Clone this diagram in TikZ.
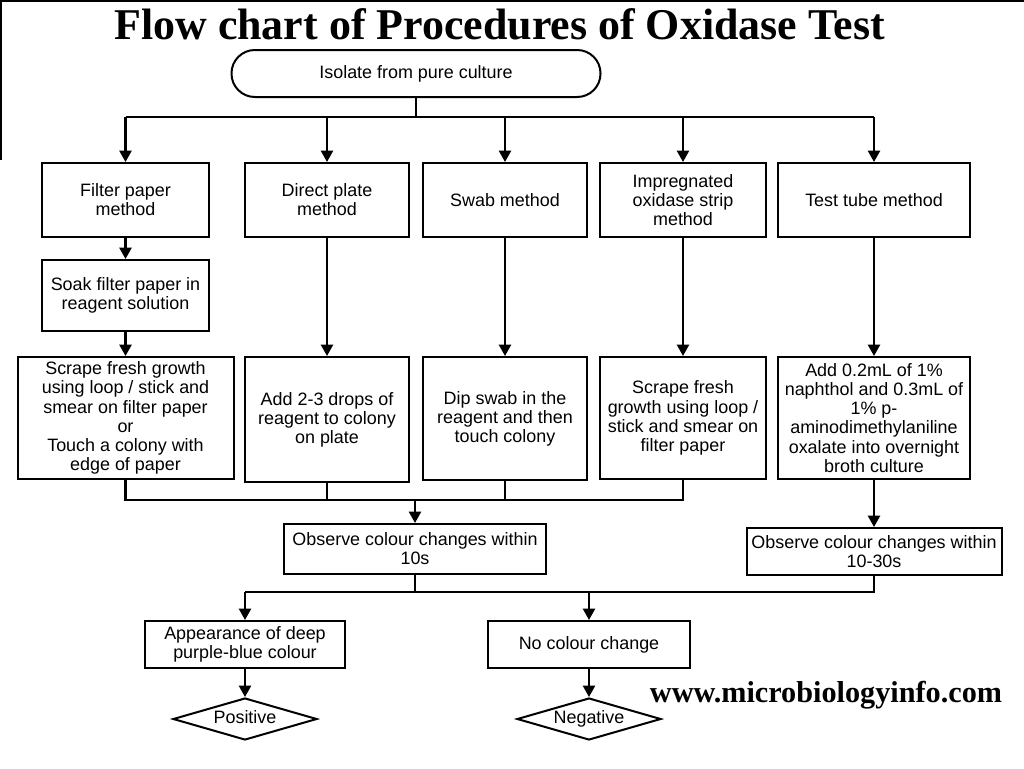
\documentclass[tikz,border=0pt]{standalone}
\usepackage{fontspec}
\setmainfont{Liberation Sans}
\newfontfamily\headfont{Liberation Serif}
\usetikzlibrary{arrows.meta,shapes.geometric}

\begin{document}
\begin{tikzpicture}[x=0.3mm, y=-0.3mm, font=\fontsize{15.3}{16.3}\selectfont,
    box/.style={draw, line width=0.6mm, align=center, inner sep=1pt},
    boxsize/.style 2 args={minimum width=#1*0.3mm, minimum height=#2*0.3mm},
    decision/.style={draw, diamond, line width=0.6mm, aspect=3.4, inner sep=0pt,
        text height=0.72em, text depth=0pt,
        minimum width=43.2mm, minimum height=12.6mm},
    wire/.style={line width=0.7mm},
    arr/.style={line width=0.7mm, -{Triangle[width=3.6mm,length=3.4mm]}}]
    \useasboundingbox (0,0) rectangle (1024,768);
    \draw[line width=0.6mm] (1,160) -- (1,1) -- (1024,1);
    \node[font=\headfont\bfseries\fontsize{37.5}{37.5}\selectfont] (title) at (499.5,24)
        {Flow chart of Procedures of Oxidase Test};
    % start
    \node[box, boxsize={369}{47}, rounded corners=7mm] (start) at (416,73.5)
        {Isolate from pure culture};
    % methods
    \node[box, boxsize={167}{74}] (filter) at (125.5,200) {Filter paper\\method};
    \node[box, boxsize={164}{74}] (direct) at (327,200) {Direct plate\\method};
    \node[box, boxsize={164}{74}] (swab) at (505,200) {Swab method};
    \node[box, boxsize={166}{74}] (strip) at (683,200) {Impregnated\\oxidase strip\\method};
    \node[box, boxsize={192}{74}] (tube) at (874,200) {Test tube method};
    \node[box, boxsize={167}{71}] (soak) at (125.5,295.5) {Soak filter paper in\\reagent solution};
    % procedures
    \node[box, boxsize={216}{122}] (scrape) at (125.5,418)
        {Scrape fresh growth\\using loop / stick and\\smear on filter paper\\or\\Touch a colony with\\edge of paper};
    \node[box, boxsize={164}{125}] (drops) at (327,419.5) {Add 2-3 drops of\\reagent to colony\\on plate};
    \node[box, boxsize={164}{123}] (dip) at (505,418.5) {Dip swab in the\\reagent and then\\touch colony};
    \node[box, boxsize={166}{122}] (smear) at (683,418)
        {Scrape fresh\\growth using loop /\\stick and smear on\\filter paper};
    \node[box, boxsize={192}{122}] (naph) at (874,418)
        {Add 0.2mL of 1\%\\naphthol and 0.3mL of\\1\% p-\\aminodimethylaniline\\oxalate into overnight\\broth culture};
    % observation
    \node[box, boxsize={262}{50}] (obs10) at (415,549) {Observe colour changes within\\10s};
    \node[box, boxsize={255}{47}] (obs30) at (874,551.5) {Observe colour changes within\\10-30s};
    \node[box, boxsize={200}{47}] (appear) at (245,644.5) {Appearance of deep\\purple-blue colour};
    \node[box, boxsize={202}{47}] (nochange) at (589,644.5) {No colour change};
    \node[decision] (pos) at (245,719) {Positive};
    \node[decision] (neg) at (589,719) {Negative};
    \node[font=\headfont\bfseries\fontsize{25.8}{25.8}\selectfont] (site) at (826,695)
        {www.microbiologyinfo.com};
    % connectors
    \coordinate (bus) at (416,117);
    \coordinate (join) at (415,500);
    \coordinate (split) at (415,592);
    \draw[wire] (start.south) -- (bus);
    \draw[wire] (filter.north |- bus) -- (tube.north |- bus);
    \foreach \m in {filter,direct,swab,strip,tube}
        \draw[arr] (\m.north |- bus) -- (\m.north);
    \draw[arr] (filter.south) -- (soak.north);
    \draw[arr] (soak.south) -- (scrape.north);
    \draw[arr] (direct.south) -- (drops.north);
    \draw[arr] (swab.south) -- (dip.north);
    \draw[arr] (strip.south) -- (smear.north);
    \draw[arr] (tube.south) -- (naph.north);
    \draw[wire] (scrape.south) -- (scrape.south |- join) -- (smear.south |- join) -- (smear.south);
    \draw[wire] (drops.south) -- (drops.south |- join);
    \draw[wire] (dip.south) -- (dip.south |- join);
    \draw[arr] (join) -- (obs10.north);
    \draw[arr] (naph.south) -- (obs30.north);
    \draw[wire] (obs10.south) -- (split);
    \draw[wire] (appear.north |- split) -- (obs30.south |- split) -- (obs30.south);
    \draw[arr] (appear.north |- split) -- (appear.north);
    \draw[arr] (nochange.north |- split) -- (nochange.north);
    \draw[arr] (appear.south) -- (pos.north);
    \draw[arr] (nochange.south) -- (neg.north);
\end{tikzpicture}
\end{document}
